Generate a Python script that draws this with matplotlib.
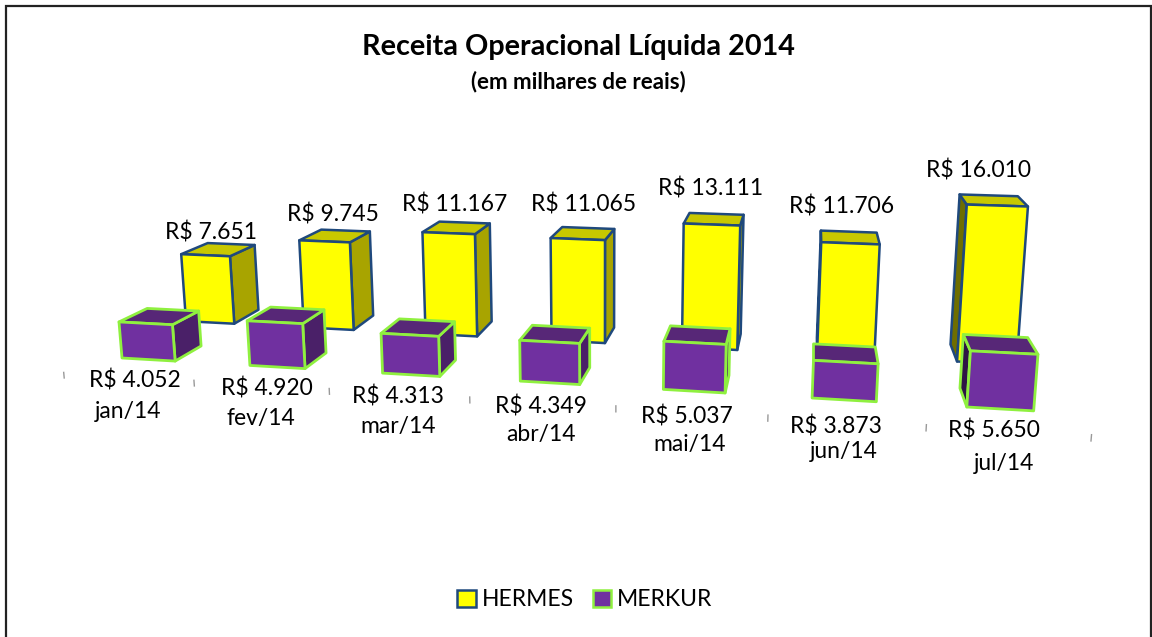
# -*- coding: utf-8 -*-
"""
Receita Operacional Liquida 2014 - hand projected 3D columns
"""

import numpy as np
import matplotlib
matplotlib.use("Agg")
import matplotlib.pyplot as plt
from matplotlib.patches import Polygon, Patch, Rectangle

categories = ["jan/14", "fev/14", "mar/14", "abr/14", "mai/14", "jun/14", "jul/14"]
hermes = [7651, 9745, 11167, 11065, 13111, 11706, 16010]
merkur = [4052, 4920, 4313, 4349, 5037, 3873, 5650]

#Camera: columns of the projective matrix (category, value in thousands, depth, origin)
CAM = np.array([[123.4, -0.926, 32.56, 122.0],
                [0.84, -9.4, -0.44, 358.0],
                [-0.018, -0.00154, 0.04, 1.0]])
BAR_W = 0.42

#The two rows do not sit on exactly the same grid in the picture
MERKUR_ROW = dict(z=0.0, depth=1.05, vscale=1.0, x0=0.0, dx=1.0)
HERMES_ROW = dict(z=2.75, depth=1.2, vscale=1.08, x0=-0.04, dx=1.015)

#Label anchors, in pixels
HERMES_POS = [(211, 233), (333, 214), (455, 204), (584, 204), (711, 189), (842, 206), (979, 170)]
MERKUR_POS = [(135, 381), (267, 388), (398, 396), (541, 406), (687, 417), (836, 427), (994, 430)]
CAT_POS = [(128, 412), (261, 418), (398, 426), (541, 434), (690, 445), (844, 452), (1004, 463)]

FONT = "Lato"
YELLOW = dict(front="#FFFF00", top="#C8C800", right="#A8A400", left="#6E6E00", edge="#1F497D", lw=1.8)
PURPLE = dict(front="#7030A0", top="#572777", right="#4A2068", left="#2E1545", edge="#8FF03F", lw=2.0)


def project(x, v, z):
    """World point (category, thousands, depth) to pixels"""
    p = CAM @ np.array([x, v, z, 1.0])
    return p[0] / p[2], p[1] / p[2]


def draw_bar(ax, i, value, row, style):
    """One column: side face, top face and front face"""
    v = value / 1000.0 * row["vscale"]
    x0 = row["x0"] + i * row["dx"]
    x1 = x0 + BAR_W
    z0 = row["z"]
    z1 = z0 + row["depth"]
    front = [project(x0, 0, z0), project(x1, 0, z0), project(x1, v, z0), project(x0, v, z0)]
    top = [project(x0, v, z0), project(x1, v, z0), project(x1, v, z1), project(x0, v, z1)]
    faces = []
    #only the side turned to the camera can be seen
    if project(x1, 0, z1)[0] > project(x1, 0, z0)[0]:
        faces.append(([project(x1, 0, z0), project(x1, 0, z1), project(x1, v, z1), project(x1, v, z0)], style["right"]))
    if project(x0, 0, z1)[0] < project(x0, 0, z0)[0]:
        faces.append(([project(x0, 0, z0), project(x0, 0, z1), project(x0, v, z1), project(x0, v, z0)], style["left"]))
    faces.append((top, style["top"]))
    faces.append((front, style["front"]))
    for pts, color in faces:
        ax.add_patch(Polygon(pts, closed=True, facecolor=color, edgecolor=style["edge"],
                             linewidth=style["lw"], joinstyle="round"))


fig = plt.figure(figsize=(11.52, 6.37), dpi=100)
ax = fig.add_axes([0, 0, 1, 1])
ax.set_xlim(0, 1152)
ax.set_ylim(637, 0)
ax.axis("off")

#Chart frame, the bottom edge is cut off by the picture
ax.add_patch(Rectangle((6, 6), 1145, 700, facecolor="white", edgecolor="#222222", linewidth=1.6))

for i, value in enumerate(hermes):
    draw_bar(ax, i, value, HERMES_ROW, YELLOW)
for i, value in enumerate(merkur):
    draw_bar(ax, i, value, MERKUR_ROW, PURPLE)

#Category ticks on the floor
for i in range(len(categories) + 1):
    tx = -0.177 + 0.98 * i
    a = project(tx, 0.3, -1.2)
    b = project(tx, -0.3, -1.2)
    ax.plot([a[0], b[0]], [a[1], b[1]], color="#999999", linewidth=1)


def money(value):
    return "R$ " + f"{value:,}".replace(",", ".")


for i in range(len(categories)):
    ax.text(*HERMES_POS[i], money(hermes[i]), family=FONT, fontsize=16.5, ha="center", va="center", color="black")
    ax.text(*MERKUR_POS[i], money(merkur[i]), family=FONT, fontsize=16.5, ha="center", va="center", color="black")
    ax.text(*CAT_POS[i], categories[i], family=FONT, fontsize=16.5, ha="center", va="center", color="black")

ax.text(578, 47, "Receita Operacional Líquida 2014", family=FONT, fontsize=20.7, fontweight="bold", ha="center", va="center")
ax.text(578, 82, "(em milhares de reais)", family=FONT, fontsize=16, fontweight="bold", ha="center", va="center")

handles = [Patch(facecolor=YELLOW["front"], edgecolor=YELLOW["edge"], linewidth=1.8, label="HERMES"),
           Patch(facecolor=PURPLE["front"], edgecolor=PURPLE["edge"], linewidth=1.8, label="MERKUR")]
ax.legend(handles=handles, loc="center", bbox_to_anchor=(585, 600), bbox_transform=ax.transData,
          ncol=2, frameon=False, handlelength=0.8, handleheight=0.8, handletextpad=0.25,
          columnspacing=0.85, prop={"family": FONT, "size": 16.5})

fig.savefig("out.png", dpi=100)
